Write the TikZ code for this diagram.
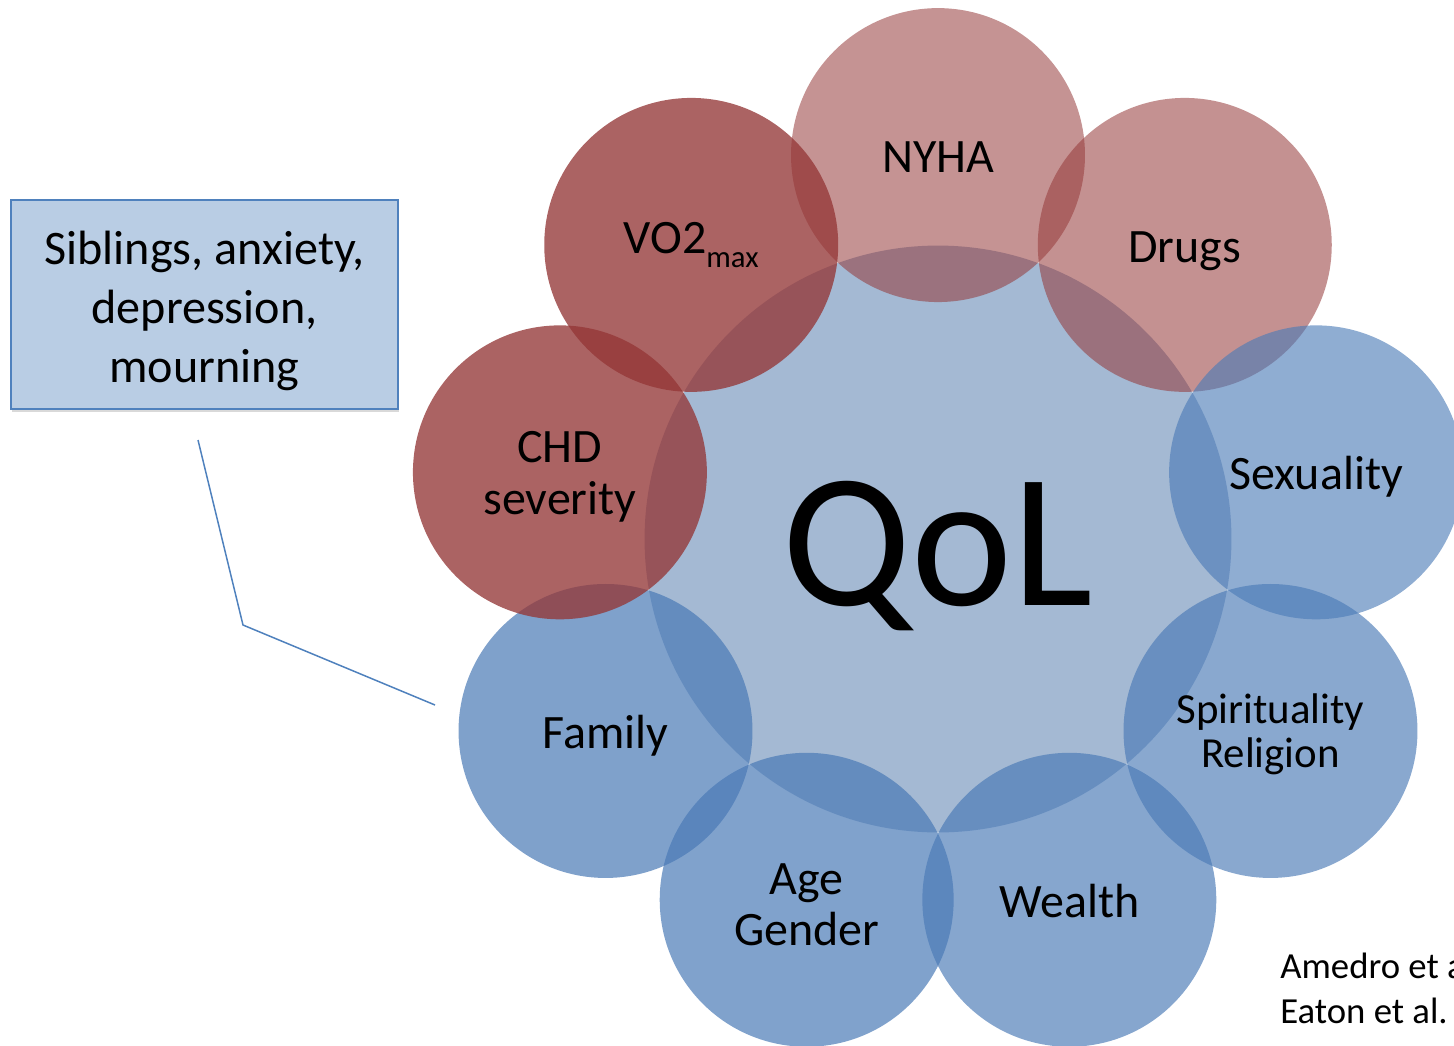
\documentclass[tikz,border=0pt]{standalone}
\usepackage{fontspec}
\setmainfont{Carlito}
\usepackage{tikz}
\usetikzlibrary{positioning, calc, shadows}
\definecolor{qolblue}{RGB}{164,185,211}
\definecolor{ringblue}{RGB}{74,122,182}
\definecolor{ringred}{RGB}{148,55,55}
\definecolor{boxblue}{RGB}{185,205,228}
\definecolor{boxedge}{RGB}{79,129,189}

\begin{document}
\begin{tikzpicture}[x=0.02cm, y=-0.02cm,
    ring/.style={circle, minimum size=5.88cm, inner sep=0pt, align=center, text opacity=1, font=\fontsize{27.3}{29.5}\selectfont},
    oneline/.style={text height=26.5pt, text depth=6.8pt},
    redring/.style={ring, fill=ringred, fill opacity=#1},
    bluering/.style={ring, fill=ringblue, fill opacity=#1}]
    \useasboundingbox (0,0) rectangle (1454,1045);
    \clip (0,0) rectangle (1454,1045);
    % centre
    \node[circle, fill=qolblue, minimum size=11.74cm, inner sep=0pt, text height=75.2pt, text depth=0pt, font=\fontsize{109}{109}\selectfont] (QoL) at (938,539) {QoL};
    % ring of factors
    \node[redring=0.54, oneline] (NYHA) at ($(QoL.center)+(90:7.68cm)$) {NYHA};
    \node[redring=0.55, oneline] (Drugs) at ($(QoL.center)+(50:7.68cm)$) {Drugs};
    \node[bluering=0.62, oneline] (Sex) at ($(QoL.center)+(10:7.68cm)$) {Sexuality};
    \node[bluering=0.65, font=\fontsize{24.4}{25.6}\selectfont] (Spirit) at ($(QoL.center)+(-30:7.68cm)$) {\rule{0pt}{0.85em}Spirituality\\Religion};
    \node[bluering=0.67, oneline] (Wealth) at ($(QoL.center)+(-70:7.68cm)$) {Wealth};
    \node[bluering=0.70] (Age) at ($(QoL.center)+(-110:7.68cm)$) {\rule{0pt}{0.85em}Age\\Gender};
    \node[bluering=0.71, oneline] (Family) at ($(QoL.center)+(-150:7.68cm)$) {Family};
    \node[redring=0.78] (CHD) at ($(QoL.center)+(170:7.68cm)$) {\rule{0pt}{0.85em}CHD\\severity};
    \node[redring=0.78] (VO2) at ($(QoL.center)+(130:7.68cm)$) {VO2\raisebox{-8pt}{\fontsize{17.5}{17.5}\selectfont max}};
    % note and callout
    \node[draw=boxedge, fill=boxblue, line width=1pt, minimum width=7.74cm, minimum height=4.18cm, align=center,
        font=\fontsize{27.4}{33.6}\selectfont, drop shadow={shadow xshift=0.5pt, shadow yshift=-1.5pt, opacity=0.3}] (note) at (204.5,304.5) {\rule{0pt}{0.95em}Siblings, anxiety,\\depression,\\mourning};
    \coordinate (c1) at (198,440);
    \coordinate (c2) at (243,625);
    \coordinate (c3) at (435,705);
    \draw[boxedge, line width=0.85pt] (c1) -- (c2) -- (c3);
    % references
    \node[anchor=base west, align=left, inner sep=0pt, font=\fontsize{20.9}{25.6}\selectfont] (cite) at (1280,1023) {Amedro et al.\\Eaton et al.};
\end{tikzpicture}
\end{document}
